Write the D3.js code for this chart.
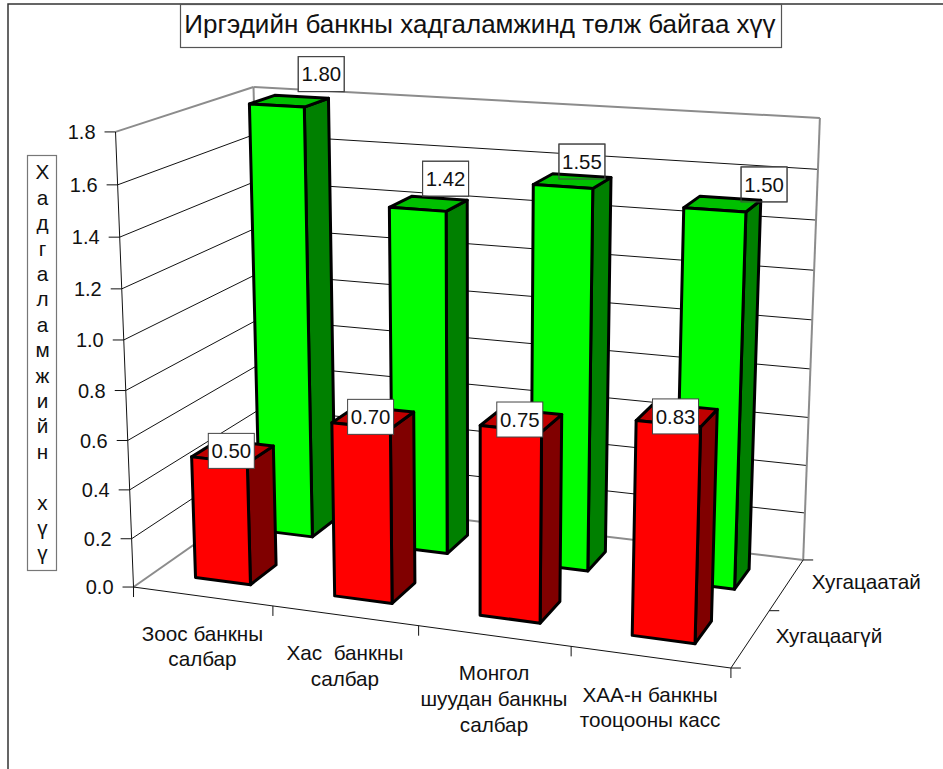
<!DOCTYPE html>
<html>
<head>
<meta charset="utf-8">
<script src="https://cdn.jsdelivr.net/npm/d3@7"></script>
<style>
  body { margin: 0; background: white; }
  text { font-family: "Liberation Sans", Arial, sans-serif; fill: #111; }
</style>
</head>
<body>
<div id="content"></div>
<script>
'use strict';
//////////////////// input data
const categories = ['Зоос банкны|салбар', 'Хас  банкны|салбар', 'Монгол|шуудан банкны|салбар', 'ХАА-н банкны|тооцооны касс'];
const series = ['Хугацаагүй', 'Хугацаатай'];   // front row, back row
const frontValues = [0.50, 0.70, 0.75, 0.83];
const backValues = [1.80, 1.42, 1.55, 1.50];
const yTicks = [0, 0.2, 0.4, 0.6, 0.8, 1.0, 1.2, 1.4, 1.6, 1.8];
const chartTitle = 'Иргэдийн банкны хадгаламжинд төлж байгаа хүү';
const yTitle = 'Хадгаламжийн хүү';

//////////////////// drawing area
const W = 943, H = 769;

// scales into the unit cube of the 3D plot
const xScale = d3.scaleBand().domain(categories).range([0, 1]).paddingInner(0.6).paddingOuter(0.3);
const zScale = d3.scaleBand().domain(series).range([0, 1]).paddingInner(0.6).paddingOuter(0.3);
const yScale = d3.scaleLinear().domain([0, 1.8]).range([0, 1]);

// where the corners of the cube landed on the picture: [x, y, z, px, py]
const cubeCorners = [
    [0, 0, 0, 133, 587], [1, 0, 0, 731, 668], [0, 0, 1, 264, 496], [1, 0, 1, 803, 560],
    [0, 1, 0, 116, 132], [0, 1, 1, 253, 87],  [1, 1, 1, 820, 118]
];

// perspective matrix fitted to the corners (least squares, Gauss elimination)
function fitProjection(pts) {
    const rows = [];
    pts.forEach(([x, y, z, u, v]) => {
        rows.push([x, y, z, 1, 0, 0, 0, 0, -u * x, -u * y, -u * z, u]);
        rows.push([0, 0, 0, 0, x, y, z, 1, -v * x, -v * y, -v * z, v]);
    });
    const n = 11;
    const A = d3.range(n).map(i => d3.range(n + 1).map(j => d3.sum(rows, r => r[i] * r[j])));
    for (let i = 0; i < n; i++) {
        let best = i;
        for (let k = i + 1; k < n; k++) if (Math.abs(A[k][i]) > Math.abs(A[best][i])) best = k;
        [A[i], A[best]] = [A[best], A[i]];
        for (let k = 0; k < n; k++) {
            if (k === i) continue;
            const f = A[k][i] / A[i][i];
            for (let j = i; j <= n; j++) A[k][j] -= f * A[i][j];
        }
    }
    return d3.range(n).map(i => A[i][n] / A[i][i]);
}
const m = fitProjection(cubeCorners);
const project = (x, y, z) => {
    const w = m[8] * x + m[9] * y + m[10] * z + 1;
    return [(m[0] * x + m[1] * y + m[2] * z + m[3]) / w, (m[4] * x + m[5] * y + m[6] * z + m[7]) / w];
};
const polyPath = pts => 'M' + pts.map(p => p.join(',')).join('L') + 'Z';
const linePath = (a, b) => 'M' + a.join(',') + 'L' + b.join(',');

////////////////////  composing SVG-content
const svg = d3.select('#content').append('svg')
    .attr('width', W).attr('height', H).style('display', 'block');

svg.append('rect').attr('x', 8).attr('y', 4).attr('width', W).attr('height', H)
    .attr('fill', 'white').attr('stroke', '#333').attr('stroke-width', 1.5);

// title
svg.append('rect').attr('x', 180.5).attr('y', 4.5).attr('width', 601).attr('height', 43)
    .attr('fill', 'white').attr('stroke', '#555').attr('stroke-width', 1.2);
svg.append('text').attr('x', 480).attr('y', 33).attr('text-anchor', 'middle')
    .attr('font-size', 26).text(chartTitle);

// y title, one letter under another
svg.append('rect').attr('x', 27.5).attr('y', 155.5).attr('width', 29).attr('height', 415)
    .attr('fill', 'white').attr('stroke', '#777').attr('stroke-width', 1.2);
svg.append('g').selectAll('text').data(Array.from(yTitle)).join('text')
    .attr('x', 42.5).attr('y', (d, i) => 172 + i * 25.4)
    .attr('dy', '0.36em').attr('text-anchor', 'middle').attr('font-size', 20.7).text(d => d);

// walls
const walls = svg.append('g');
yTicks.filter(t => t > 0 && t < 1.8).forEach(t => {
    const y = yScale(t);
    walls.append('path').attr('fill', 'none').attr('stroke', '#111').attr('stroke-width', 1)
        .attr('d', 'M' + [project(0, y, 0), project(0, y, 1), project(1, y, 1)].map(p => p.join(',')).join('L'));
});
[
    [[0, 0, 0], [0, 0, 1]], [[0, 0, 1], [1, 0, 1]], [[1, 0, 1], [1, 1, 1]],
    [[1, 1, 1], [0, 1, 1]], [[0, 1, 1], [0, 1, 0]], [[0, 1, 1], [0, 0, 1]]
].forEach(([a, b]) => walls.append('path').attr('fill', 'none').attr('stroke', '#8c8c8c').attr('stroke-width', 2)
    .attr('d', linePath(project(...a), project(...b))));

// axes
const axes = svg.append('g').attr('fill', 'none').attr('stroke', '#111').attr('stroke-width', 1);
axes.append('path').attr('d', linePath(project(0, 0, 0), project(0, 1, 0)));
axes.append('path').attr('d', linePath(project(0, 0, 0), project(1, 0, 0)));
axes.append('path').attr('d', linePath(project(1, 0, 0), project(1, 0, 1)));
yTicks.forEach(t => {
    const p = project(0, yScale(t), 0);
    axes.append('path').attr('d', linePath(p, [p[0] - 11, p[1]]));
    svg.append('text').attr('x', p[0] - 20).attr('y', p[1]).attr('dy', '0.36em')
        .attr('text-anchor', 'end').attr('font-size', 20).text(t.toFixed(1));
});
d3.range(categories.length + 1).forEach(i => {
    const p = project(i / categories.length, 0, 0);
    axes.append('path').attr('d', linePath(p, [p[0], p[1] + 10]));
});
d3.range(series.length + 1).forEach(i => {
    const p = project(1, 0, i / series.length);
    axes.append('path').attr('d', linePath(p, [p[0] + 10, p[1]]));
});

// category labels
categories.forEach((c, i) => {
    const p = project((i + 0.5) / categories.length, 0, 0);
    c.split('|').forEach((line, k) => {
        svg.append('text').attr('x', p[0]).attr('y', p[1] + 37 + k * 25.6).attr('dy', '0.36em')
            .attr('text-anchor', 'middle').attr('font-size', 20.7)
            .style('white-space', 'pre').text(line);
    });
});
series.forEach((s, i) => {
    const p = project(1, 0, (i + 0.5) / series.length);
    svg.append('text').attr('x', p[0] + 25).attr('y', p[1] - 3).attr('dy', '0.36em')
        .attr('font-size', 20.7).text(s);
});

// bars: back row first so the front row sits over it
const rows = [
    { name: series[1], values: backValues, front: '#00ff00', side: '#008000', top: '#00c000' },
    { name: series[0], values: frontValues, front: '#ff0000', side: '#800000', top: '#c00000' }
];
const labelOffsets = [
    [[32, -27], [17, -25], [9.5, -19.5], [41.5, -19.5]],
    [[-1.5, -0.5], [-2.5, -0.5], [-1.5, -0.5], [-1.5, 1.5]]
];
const labelBox = (r, i, v) => {
    const x0 = xScale(categories[i]), z0 = zScale(rows[r].name);
    const c = project(x0 + xScale.bandwidth() / 2, yScale(v), z0 + zScale.bandwidth() / 2);
    return [c[0] + labelOffsets[r][i][0], c[1] + labelOffsets[r][i][1]];
};
const addBox = (c, fill) => svg.append('rect').attr('x', c[0] - 23).attr('y', c[1] - 17.5)
    .attr('width', 46).attr('height', 35).attr('fill', fill).attr('stroke', '#444').attr('stroke-width', 1);

// back row labels have their white box behind the bars
backValues.forEach((v, i) => addBox(labelBox(0, i, v), 'white'));

rows.forEach(row => {
    const bars = svg.append('g').attr('stroke', 'black').attr('stroke-width', 3).attr('stroke-linejoin', 'round');
    row.values.forEach((v, i) => {
        const x0 = xScale(categories[i]), x1 = x0 + xScale.bandwidth();
        const z0 = zScale(row.name), z1 = z0 + zScale.bandwidth();
        const y1 = yScale(v);
        bars.append('path').attr('fill', row.side)
            .attr('d', polyPath([project(x1, 0, z0), project(x1, 0, z1), project(x1, y1, z1), project(x1, y1, z0)]));
        bars.append('path').attr('fill', row.top)
            .attr('d', polyPath([project(x0, y1, z0), project(x1, y1, z0), project(x1, y1, z1), project(x0, y1, z1)]));
        bars.append('path').attr('fill', row.front)
            .attr('d', polyPath([project(x0, 0, z0), project(x1, 0, z0), project(x1, y1, z0), project(x0, y1, z0)]));
    });
});

// data labels
rows.forEach((row, r) => {
    row.values.forEach((v, i) => {
        const c = labelBox(r, i, v);
        addBox(c, r === 0 ? 'none' : 'white');
        svg.append('text').attr('x', c[0]).attr('y', c[1]).attr('dy', '0.36em').attr('text-anchor', 'middle')
            .attr('font-size', 20.4).text(v.toFixed(2));
    });
});
</script>
</body>
</html>
